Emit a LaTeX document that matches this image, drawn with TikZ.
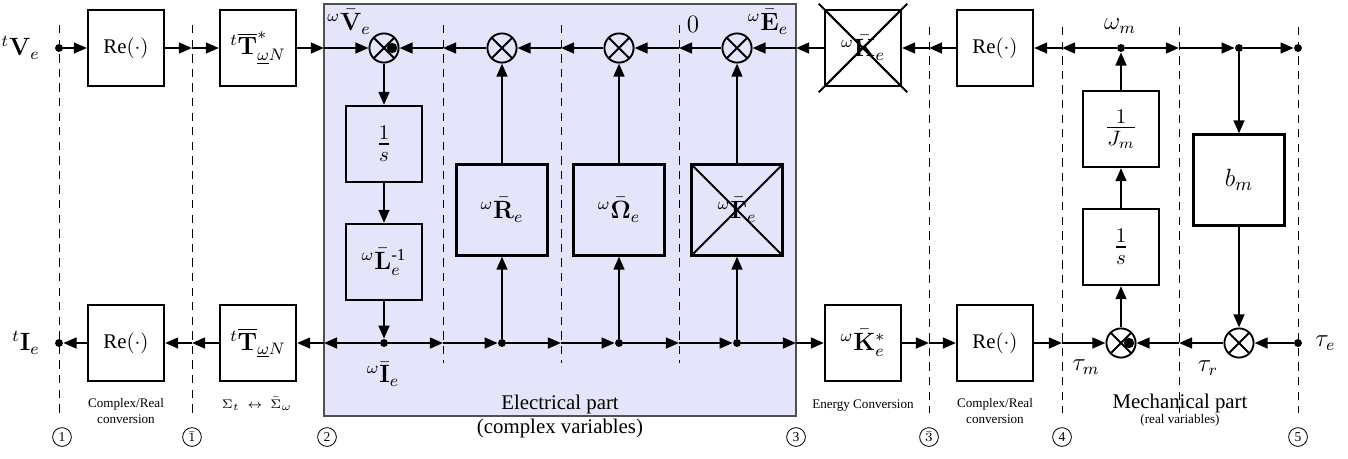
\documentclass[tikz,border=0pt]{standalone}
\usepackage{amsmath}
\usepackage[no-math]{fontspec}
\setmainfont{Liberation Serif}
\usetikzlibrary{arrows.meta,calc}
\definecolor{elec}{RGB}{228,228,250}
\definecolor{elecb}{RGB}{80,80,80}
\begin{document}
\begin{tikzpicture}[x=0.48pt,y=-0.48pt,
 mathsz/.style={font=\fontsize{11.5}{13}\selectfont},
 fracsz/.style={font=\fontsize{14}{16}\selectfont},
 blk/.style={draw,line width=1.05pt,minimum width=36.5pt,minimum height=36.5pt,inner sep=0pt,mathsz},
 bigblk/.style={blk,minimum width=43.7pt,minimum height=43.7pt},
 crossed/.style={path picture={\draw[line width=0.9pt] (path picture bounding box.north west) -- (path picture bounding box.south east) (path picture bounding box.north east) -- (path picture bounding box.south west);}},
 sumn/.style={circle,draw,line width=0.9pt,minimum size=14pt,inner sep=0pt,crossed},
 dotn/.style={circle,fill,inner sep=0pt,minimum size=3.8pt},
 con/.style={line width=1pt,-{Triangle[length=6.3pt,width=5.2pt]}},
 sep/.style={line width=0.4pt,dash pattern=on 4pt off 3pt},
 num/.style={circle,draw,line width=0.4pt,inner sep=0.4pt,minimum size=9pt,font=\fontsize{6.5}{7}\selectfont},
 small/.style={font=\fontsize{6.3}{7.5}\selectfont,align=center},
 big/.style={font=\fontsize{10}{11}\selectfont,align=center},
 lbl/.style={mathsz}
]
\useasboundingbox (0,0) rectangle (1348,458);
% electrical region
\filldraw[fill=elec,draw=elecb,line width=0.6pt] (324,4) rectangle (796,416);
% separators
\foreach \x in {59,192} {\draw[sep] (\x,25) -- (\x,415);}
\foreach \x in {443,561,679} {\draw[sep] (\x,25) -- (\x,363);}
\foreach \x in {929,1062,1179,1298} {\draw[sep] (\x,27) -- (\x,413);}

% coordinates on separators / edges
\foreach \x/\n in {192/a,324/b,443/c,561/d,679/e,796/f,929/g,1062/h,1179/i} {
  \coordinate (top\n) at (\x,48);
  \coordinate (bot\n) at (\x,343);
}

% blocks
\node[blk,font=\fontsize{10}{11}\selectfont] (reA) at (126,48) {Re$(\cdot)$};
\node[blk,font=\fontsize{10}{11}\selectfont] (reB) at (126,343) {Re$(\cdot)$};
\node[blk] (tA) at (258,48) {${}^{t}\overline{\mathbf{T}}^{*}_{\underline{\omega}N}$};
\node[blk] (tB) at (258,343) {${}^{t}\overline{\mathbf{T}}_{\underline{\omega}N}$};
\node[blk,fracsz] (invs) at (384,144) {$\frac{1}{s}$};
\node[blk] (Linv) at (384,262) {${}^{\omega}\bar{\mathbf{L}}_e^{\text{-1}}$};
\node[bigblk] (R) at (502,210) {${}^{\omega}\bar{\mathbf{R}}_e$};
\node[bigblk] (O) at (619,210) {${}^{\omega}\bar{\mathbf{\Omega}}_e$};
\node[bigblk,crossed] (G) at (737,210) {${}^{\omega}\bar{\mathbf{\Gamma}}_e$};
\node[blk,crossed] (K) at (863,48) {${}^{\omega}\bar{\mathbf{K}}_e$};
\draw[line width=0.9pt] ($(K.north west)!-0.065!(K.south east)$) -- ($(K.south east)!-0.065!(K.north west)$)
  ($(K.north east)!-0.065!(K.south west)$) -- ($(K.south west)!-0.065!(K.north east)$);
\node[blk] (Ks) at (863,343) {${}^{\omega}\bar{\mathbf{K}}_e^{*}$};
\node[blk,font=\fontsize{10}{11}\selectfont] (reC) at (995,48) {Re$(\cdot)$};
\node[blk,font=\fontsize{10}{11}\selectfont] (reD) at (995,343) {Re$(\cdot)$};
\node[blk,fracsz] (Jm) at (1121,129) {$\frac{1}{J_m}$};
\node[blk,fracsz] (sm) at (1121,247) {$\frac{1}{s}$};
\node[bigblk,font=\fontsize{13}{15}\selectfont] (bm) at (1239,180) {$b_m$};

% summing junctions
\node[sumn] (s1) at (384,48) {};
\node[sumn] (s2) at (502,48) {};
\node[sumn] (s3) at (619,48) {};
\node[sumn] (s4) at (737,48) {};
\node[sumn] (m1) at (1121,343) {};
\node[sumn] (m2) at (1239,343) {};

% dots
\node[dotn] (vin) at (59,48) {};
\node[dotn] (iout) at (59,343) {};
\node[dotn] (dI) at (384,343) {};
\node[dotn] (dR) at (502,343) {};
\node[dotn] (dO) at (619,343) {};
\node[dotn] (dG) at (737,343) {};
\node[dotn] (wm) at (1121,48) {};
\node[dotn] (wb) at (1239,48) {};
\node[dotn] (wout) at (1298,48) {};
\node[dotn] (tedot) at (1298,343) {};
\node[dotn,minimum size=5pt] (x1) at (392,48) {};
\node[dotn,minimum size=5pt] (x2) at (1129,343) {};

% top line
\draw[con] (vin) -- (reA.west);
\draw[con] (reA.east) -- (topa);
\draw[con] (topa) -- (tA.west);
\draw[con] (tA.east) -- (topb);
\draw[con] (topb) -- (s1.west);
\draw[con] (topc) -- (s1.east);
\draw[con] (s2.west) -- (topc);
\draw[con] (topd) -- (s2.east);
\draw[con] (s3.west) -- (topd);
\draw[con] (tope) -- (s3.east);
\draw[con] (s4.west) -- (tope);
\draw[con] (topf) -- (s4.east);
\draw[con] (K.west) -- (topf);
\draw[con] (topg) -- (K.east);
\draw[con] (reC.west) -- (topg);
\draw[con] (toph) -- (reC.east);
\draw[con] (wm) -- (toph);
\draw[con] (wm) -- (topi);
\draw[con] (topi) -- (wb);
\draw[con] (wb) -- (wout);

% electrical verticals
\draw[con] (s1.south) -- (invs.north);
\draw[con] (invs.south) -- (Linv.north);
\draw[con] (Linv.south) -- (dI);
\draw[con] (dR) -- (R.south);
\draw[con] (R.north) -- (s2.south);
\draw[con] (dO) -- (O.south);
\draw[con] (O.north) -- (s3.south);
\draw[con] (dG) -- (G.south);
\draw[con] (G.north) -- (s4.south);

% bottom line
\draw[con] (dI) -- (botb);
\draw[con] (botb) -- (tB.east);
\draw[con] (tB.west) -- (bota);
\draw[con] (bota) -- (reB.east);
\draw[con] (reB.west) -- (iout);
\draw[con] (dI) -- (botc);
\draw[con] (botc) -- (dR);
\draw[con] (dR) -- (botd);
\draw[con] (botd) -- (dO);
\draw[con] (dO) -- (bote);
\draw[con] (bote) -- (dG);
\draw[con] (dG) -- (botf);
\draw[con] (botf) -- (Ks.west);
\draw[con] (Ks.east) -- (botg);
\draw[con] (botg) -- (reD.west);
\draw[con] (reD.east) -- (both);
\draw[con] (both) -- (m1.west);
\draw[con] (tedot) -- (m2.east);
\draw[con] (m2.west) -- (boti);
\draw[con] (boti) -- (m1.east);

% mechanical verticals
\draw[con] (m1.north) -- (sm.south);
\draw[con] (sm.north) -- (Jm.south);
\draw[con] (Jm.north) -- (wm);
\draw[con] (wb) -- (bm.north);
\draw[con] (bm.south) -- (m2.north);

% signal labels
\node[lbl,anchor=east] (lV) at (47,48) {${}^{t}\mathbf{V}_e$};
\node[lbl,anchor=east] (lI) at (47,343) {${}^{t}\mathbf{I}_e$};
\node[lbl] (lVw) at (349,22) {${}^{\omega}\bar{\mathbf{V}}_e$};
\node[lbl] (lz) at (693,24) {$0$};
\node[lbl] (lE) at (768,22) {${}^{\omega}\bar{\mathbf{E}}_e$};
\node[lbl] (lIw) at (383,374) {${}^{\omega}\bar{\mathbf{I}}_e$};
\node[lbl] (lwm) at (1120,26) {$\omega_m$};
\node[lbl] (ltm) at (1086,367) {$\tau_m$};
\node[lbl] (ltr) at (1208,368) {$\tau_r$};
\node[lbl,anchor=west] (lte) at (1308,343) {$\tau_e$};

% region captions
\node[small] (c1) at (126,411) {Complex/Real\\conversion};
\node[small] (c2) at (257,404) {$\Sigma_t\ \leftrightarrow\ \bar{\Sigma}_\omega$};
\node[big] (c3a) at (560,404) {Electrical part};
\node[big] (c3b) at (560,428) {(complex variables)};
\node[small] (c4) at (863,406) {Energy Conversion};
\node[small] (c5) at (995,411) {Complex/Real\\conversion};
\node[big] (c6) at (1180,403) {Mechanical part};
\node[small] (c7) at (1180,420) {(real variables)};

% section numbers
\node[num] (n1) at (62,437) {1};
\node[num] (n1b) at (192,437) {$\bar{1}$};
\node[num] (n2) at (327,437) {2};
\node[num] (n3) at (796,437) {3};
\node[num] (n3b) at (929,437) {$\bar{3}$};
\node[num] (n4) at (1062,437) {4};
\node[num] (n5) at (1298,437) {5};
\end{tikzpicture}
\end{document}
